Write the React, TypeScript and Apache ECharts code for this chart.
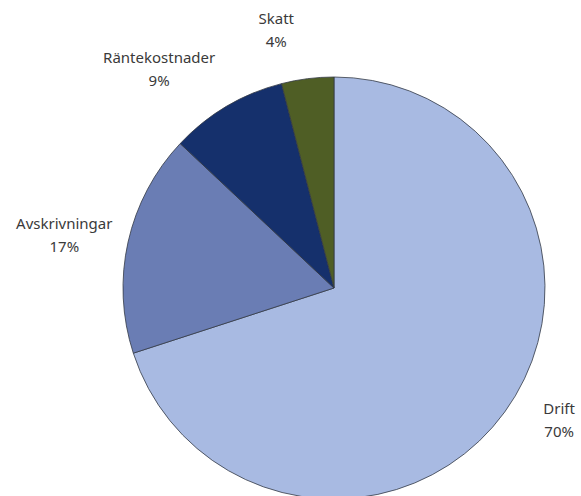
import React, { useEffect, useRef } from "react";
import * as echarts from "echarts";

const categories = ["Drift", "Avskrivningar", "Räntekostnader", "Skatt"];
const values = [70, 17, 9, 4];
const colors = ["#a8bae2", "#6a7db4", "#15306c", "#4f5e25"];
// label nudges (px) relative to the default outside position
const labelNudges: [number, number][] = [
  [14, -22],
  [-15, 3],
  [-42, 5],
  [-25, 0],
];

export default function App() {
  const ref = useRef<HTMLDivElement>(null);
  useEffect(() => {
    document.body.style.margin = "0";
    const chart = echarts.init(ref.current!, undefined, { renderer: "svg" });
    chart.setOption({
      animation: false,
      backgroundColor: "#ffffff",
      series: [
        {
          type: "pie",
          center: [334, 288],
          radius: 211,
          startAngle: 90,
          clockwise: true,
          avoidLabelOverlap: false,
          data: categories.map((name, i) => ({
            name,
            value: values[i],
            itemStyle: { color: colors[i] },
          })),
          itemStyle: { borderColor: "#333a45", borderWidth: 0.8 },
          label: {
            show: true,
            position: "outside",
            formatter: "{b}\n{d}%",
            color: "#3a3a3a",
            fontFamily: "Noto Sans",
            fontSize: 15,
            lineHeight: 23,
            align: "center",
            distanceToLabelLine: 0,
          },
          labelLine: { show: false, length: 50, length2: 0 },
          labelLayout: (p: any) => ({
            align: "center",
            dx: labelNudges[p.dataIndex][0],
            dy: labelNudges[p.dataIndex][1],
          }),
          emphasis: { disabled: true },
        },
      ],
    });
    return () => chart.dispose();
  }, []);
  return <div ref={ref} style={{ width: 581, height: 496 }} />;
}
